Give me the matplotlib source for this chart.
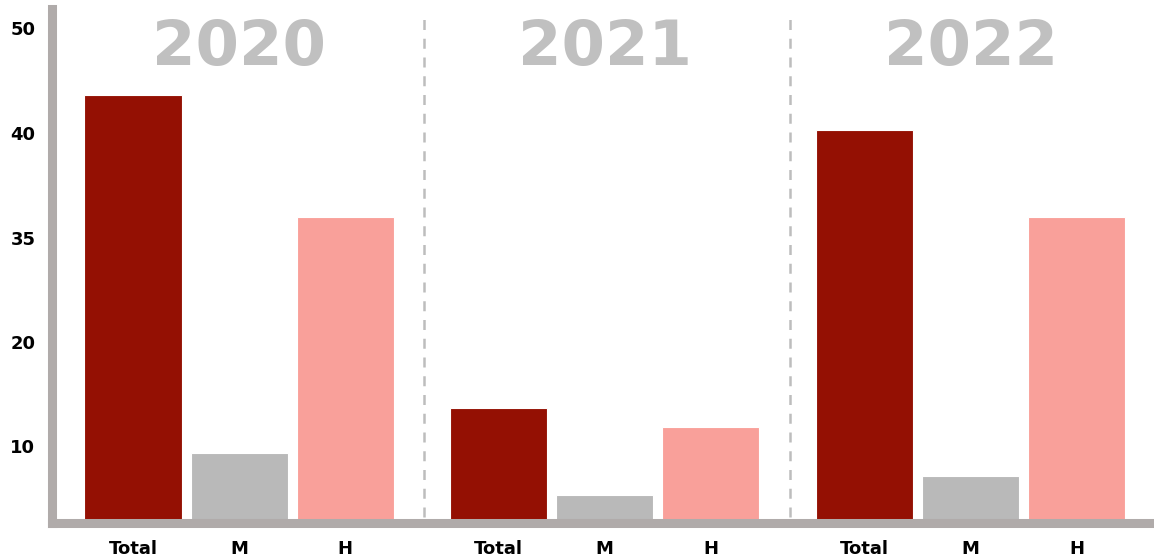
import matplotlib
matplotlib.use("Agg")
import matplotlib.pyplot as plt

# data (axis units, labels on the y axis are the original ones)
years = ["2020", "2021", "2022"]
categories = ["Total", "M", "H"]
total_vals = [41.0, 11.0, 37.6]
m_vals = [6.7, 2.7, 4.5]
h_vals = [29.3, 9.2, 29.3]
ytick_pos = [7.4, 17.3, 27.3, 37.3, 47.4]
ytick_labels = ["10", "20", "35", "40", "50"]

colors = ["#941003", "#b9b9b9", "#f9a09a"]
spine_color = "#b0abaa"
group_step = 3.45
bar_w = 0.915

plt.rcParams["font.family"] = ["DejaVu Sans"]

fig = plt.figure(figsize=(11.54, 5.6), dpi=100)
ax = fig.add_axes([52 / 1154, 37 / 560, 1 - 52 / 1154, 514 / 560])

series = [total_vals, m_vals, h_vals]
xticks, xlabels = [], []
for g, year in enumerate(years):
    base = g * group_step
    for i, cat in enumerate(categories):
        ax.bar(base + i, series[i][g], width=bar_w, color=colors[i],
               edgecolor="white", linewidth=0.8, zorder=2)
        xticks.append(base + i)
        xlabels.append(cat)
    ax.text(base + 1, 45.5, year, ha="center", va="center", fontsize=45,
            fontweight="bold", color="#c0c0c0", zorder=3)

# dashed separators between the years
for g in range(len(years) - 1):
    xs = (g * group_step + 2 + (g + 1) * group_step) / 2 + 0.02
    ax.plot([xs, xs], [0.6, 49.0], color="#bdbdbd", linewidth=1.8,
            linestyle=(0, (4, 3.5)), zorder=1)

ax.set_xlim(-0.764, 9.63)
ax.set_ylim(0, 49.2)

ax.set_yticks(ytick_pos)
ax.set_yticklabels(ytick_labels)
ax.set_xticks(xticks)
ax.set_xticklabels(xlabels)
ax.tick_params(axis="both", length=0, labelsize=13)
ax.tick_params(axis="y", pad=12)
ax.tick_params(axis="x", pad=12)
for lab in ax.get_xticklabels() + ax.get_yticklabels():
    lab.set_fontweight("bold")

for side in ["top", "right"]:
    ax.spines[side].set_visible(False)
for side in ["left", "bottom"]:
    ax.spines[side].set_color(spine_color)
    ax.spines[side].set_linewidth(6.5)
    ax.spines[side].set_zorder(4)

fig.savefig("out.png", dpi=100, facecolor="white")
